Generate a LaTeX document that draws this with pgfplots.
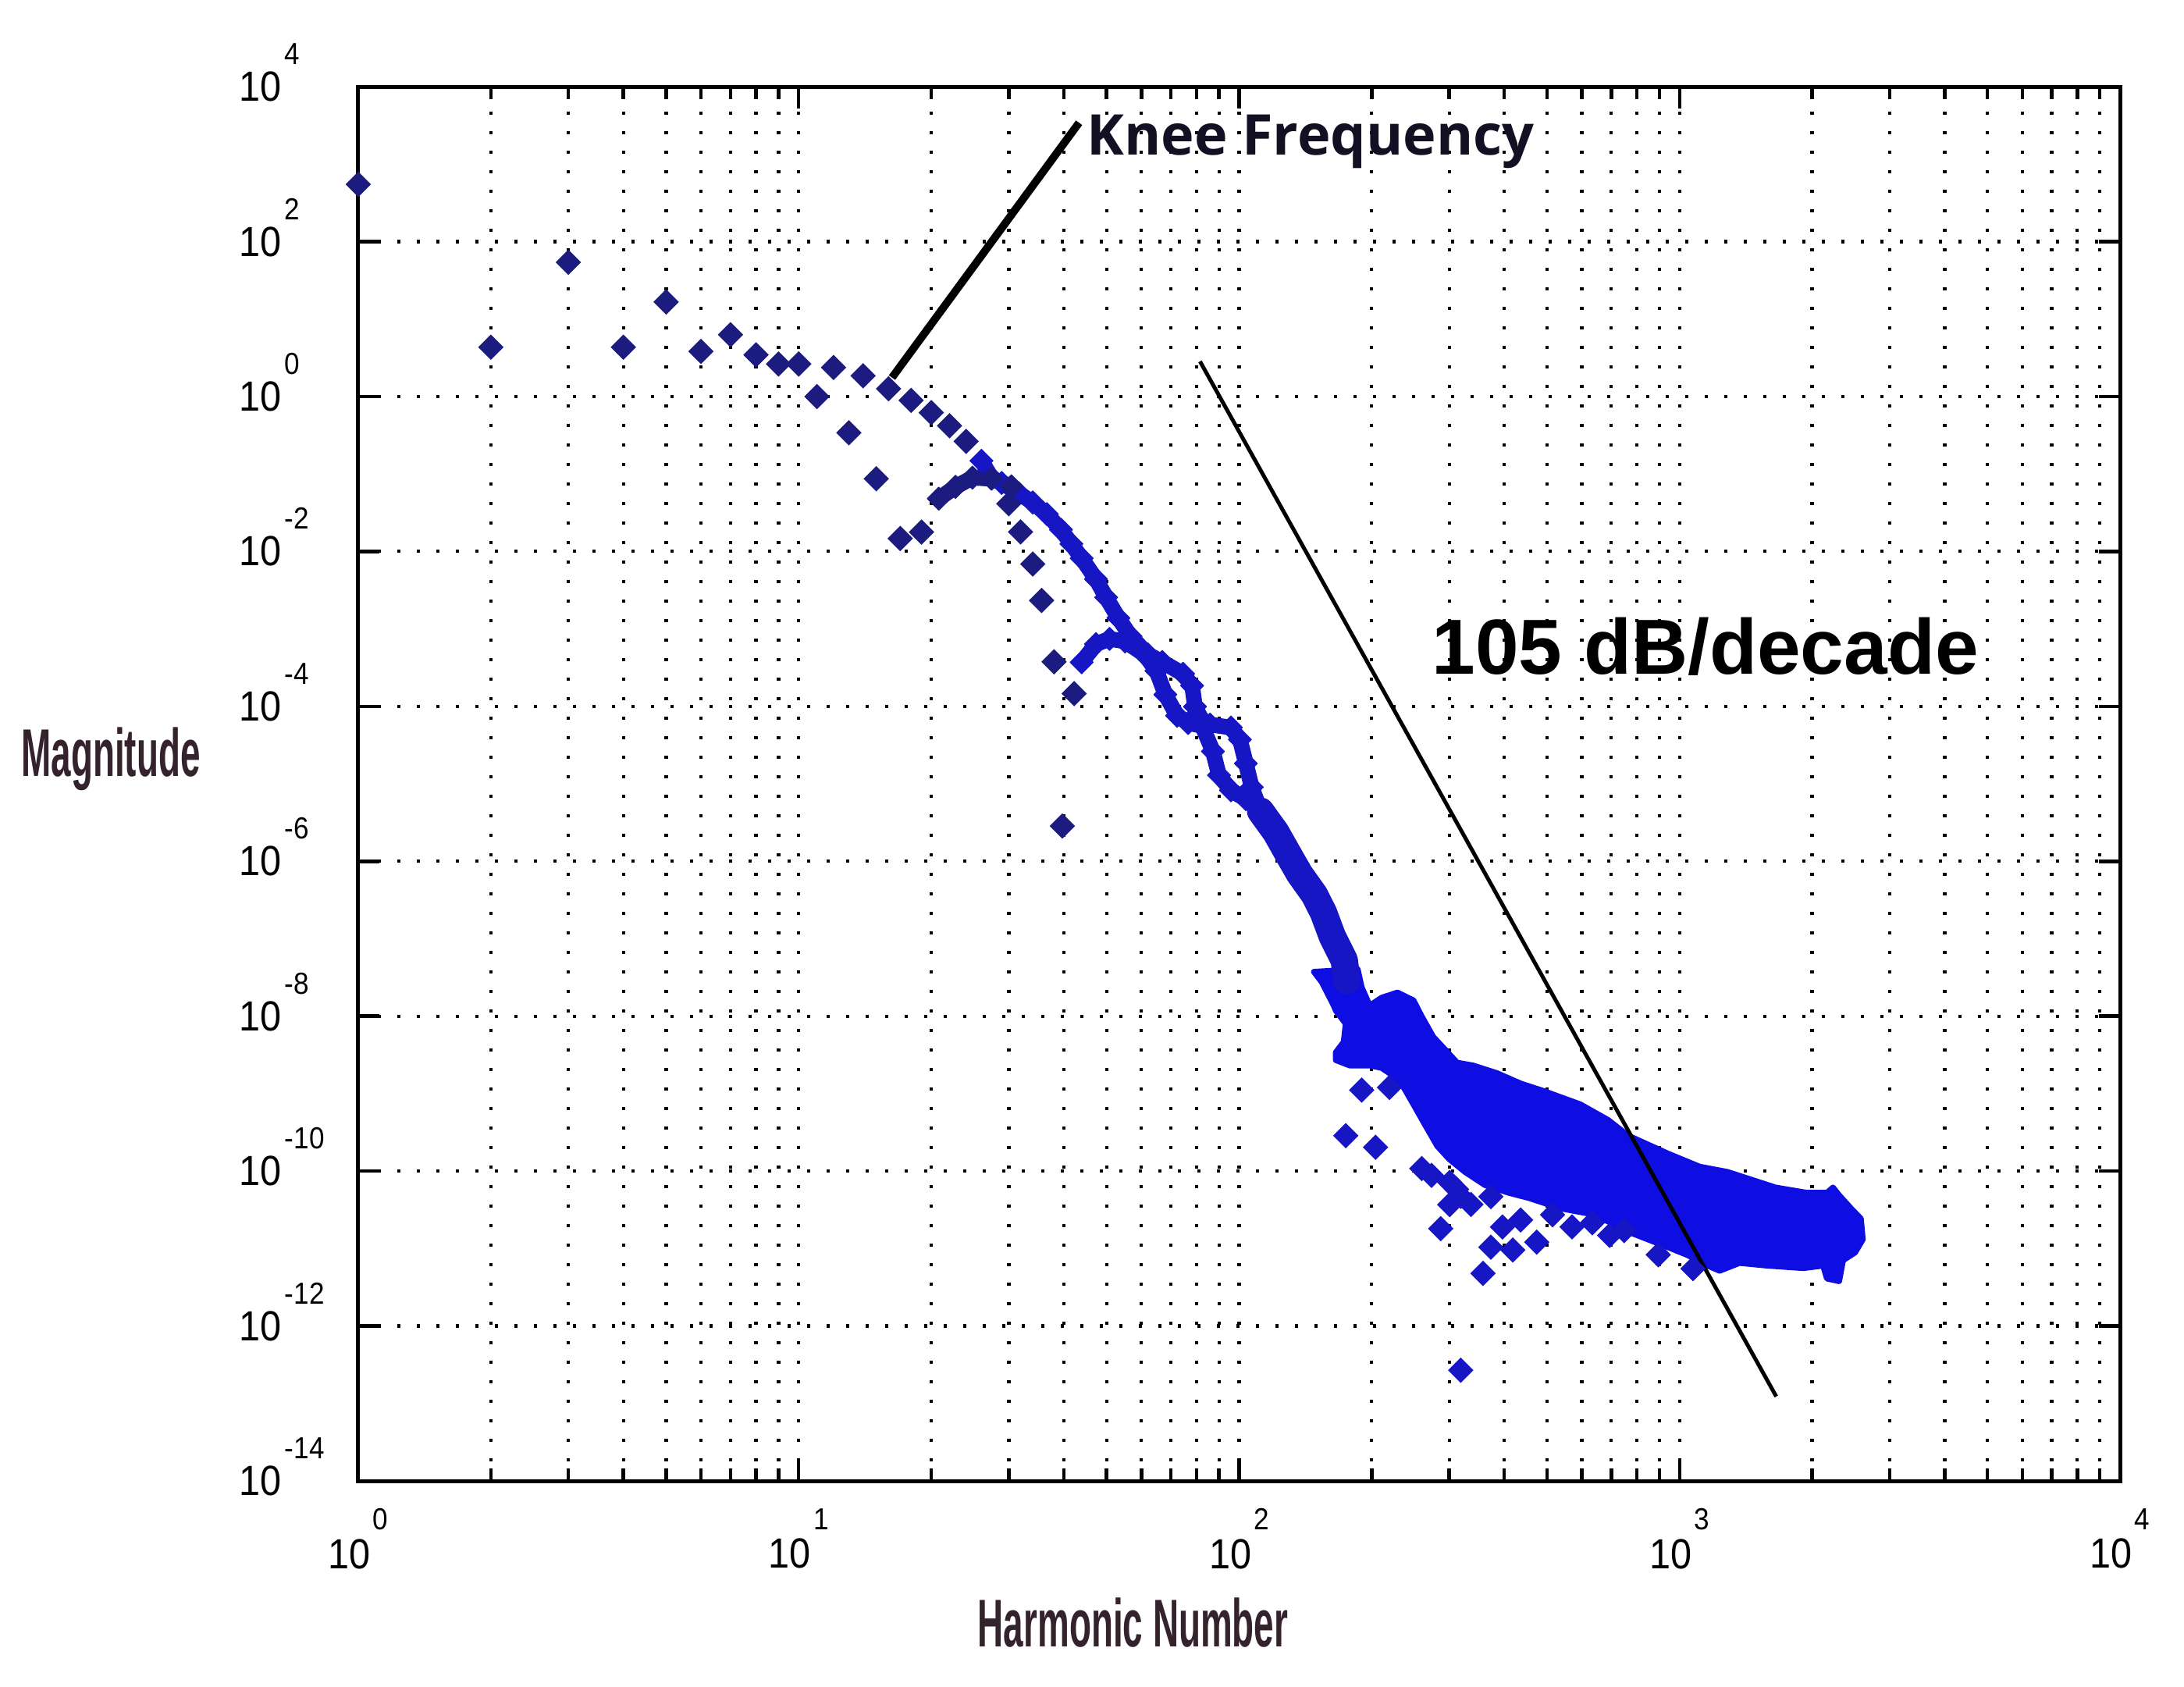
\documentclass[border=0pt]{standalone}
\usepackage{fontspec}
\setmainfont{Liberation Sans}
\newfontfamily\tickfont[FakeStretch=0.9]{Liberation Sans}
\newfontfamily\labfont[FakeStretch=0.53]{Liberation Sans}
\newfontfamily\kneefont{Open Sans}
\usepackage{pgfplots}
\pgfplotsset{compat=1.18}
\definecolor{navyM}{RGB}{28,28,128}
\definecolor{bandB}{RGB}{22,22,196}
\definecolor{blobB}{RGB}{14,14,226}
\definecolor{labC}{RGB}{52,34,44}
\definecolor{kneeC}{RGB}{20,16,36}
\newcommand\xl[1]{{\tickfont\fontsize{10.8}{12}\selectfont 10\kern0.6pt\raisebox{9.9pt}{\fontsize{7.8}{8}\selectfont #1}}}
\newcommand\yl[1]{{\tickfont\fontsize{10.8}{12}\selectfont 10\rlap{\kern0.8pt\smash{\raisebox{9.4pt}{\fontsize{7.8}{8}\selectfont #1}}}}}
\begin{document}
\begin{tikzpicture}
\path[use as bounding box] (-91.8pt,-52.6pt) rectangle (467.8pt,379.4pt);
\begin{axis}[
  at={(0,0)}, anchor=south west,
  scale only axis, width=451.4pt, height=357.2pt,
  xmode=log, ymode=log,
  xmin=1, xmax=10000, ymin=1e-14, ymax=1e4,
  xtick={1,10,100,1000,10000},
  xticklabels={\xl{0},\xl{1},\xl{2},\xl{3},\xl{4}},
  minor xtick={2,3,4,5,6,7,8,9,20,30,40,50,60,70,80,90,200,300,400,500,600,700,800,900,2000,3000,4000,5000,6000,7000,8000,9000},
  ytick={1e-14,1e-12,1e-10,1e-8,1e-6,1e-4,1e-2,1,1e2,1e4},
  yticklabels={\yl{-14},\yl{-12},\yl{-10},\yl{-8},\yl{-6},\yl{-4},\yl{-2},\yl{0},\yl{2},\yl{4}},
  yminorticks=false,
  xmajorgrids, xminorgrids, ymajorgrids,
  major grid style={black, line width=0.85pt, dash pattern=on 0.85pt off 4.15pt},
  minor grid style={black, line width=0.85pt, dash pattern=on 0.85pt off 4.15pt},
  tick align=inside, tick pos=both,
  major tick length=5.5pt, minor tick length=3.2pt,
  every tick/.style={black, line width=0.9pt},
  axis line style={line width=1pt},
  xticklabel style={anchor=north, inner sep=0pt, yshift=-6.9pt},
  yticklabel style={anchor=east, inner sep=0pt, xshift=-19.4pt},
  xlabel={\labfont\bfseries\fontsize{17.3}{18}\selectfont Harmonic Number},
  xlabel style={at={(axis description cs:0.3513,-0.1187)}, anchor=base west, inner sep=0pt, text=labC},
  ylabel={\labfont\bfseries\fontsize{17.3}{18}\selectfont Magnitude},
  ylabel style={at={(axis description cs:-0.1916,0.5056)}, rotate=-90, anchor=base west, inner sep=0pt, text=labC},
]
% dense blob of high harmonics
\addplot[draw=blobB, fill=blobB, line width=1.5pt, line join=round] coordinates {
(147.9,3.74e-8) (154.1,2.75e-8) (164.0,1.37e-8) (165.8,1.18e-8)
(174.6,8.00e-9) (172.8,4.65e-9) (165.8,3.41e-9) (165.8,2.71e-9) (178.3,2.31e-9) (197.9,2.31e-9)
(210.6,2.15e-9) (224.0,1.70e-9) (233.7,1.35e-9) (248.8,7.26e-10) (264.6,3.92e-10) (281.7,2.11e-10)
(299.9,1.43e-10) (325.8,9.75e-11) (361.4,6.61e-11) (409.8,5.24e-11) (454.6,4.50e-11) (537.0,3.30e-11)
(621.1,2.83e-11) (688.7,2.24e-11) (764.5,1.65e-11) (848.4,1.31e-11) (941.5,1.04e-11) (1044,8.21e-12)
(1158,6.02e-12) (1233,5.17e-12) (1368,6.52e-12) (1583,6.02e-12) (1909,5.59e-12) (2118,6.02e-12)
(2161,4.10e-12) (2303,3.79e-12) (2350,7.05e-12) (2502,8.89e-12) (2606,1.31e-11) (2580,2.43e-11)
(2450,3.30e-11) (2303,4.87e-11) (2230,6.14e-11) (2161,5.24e-11) (1948,5.24e-11) (1651,6.14e-11)
(1285,9.75e-11) (1111,1.14e-10) (941.5,1.68e-10) (764.5,2.87e-10) (688.7,4.56e-10) (595.5,7.26e-10)
(493.9,1.07e-9) (435.8,1.35e-9) (384.8,1.84e-9) (339.6,2.31e-9) (312.6,2.51e-9) (275.8,5.42e-9)
(259.3,1.01e-8) (248.8,1.60e-8) (228.8,2.02e-8) (210.6,1.73e-8) (197.9,1.37e-8) (189.8,2.36e-8)
(185.8,4.05e-8)
} -- cycle;
% merged band
\addplot[bandB, line width=7pt, line join=round, line cap=round, mark=square*, mark size=2.1pt,
  mark options={rotate=45, fill=bandB, draw=bandB, line width=0.2pt}] coordinates {
(111.9,4.43e-6) (121.1,2.38e-6) (128.8,1.28e-6) (137.1,6.89e-7) (148.2,3.70e-7) (155.4,2.17e-7)
(162.8,1.07e-7) (173.3,5.26e-8) (175.5,2.88e-8)
};
% upper strand
\addplot[bandB, line width=4pt, line join=round, line cap=round, mark=square*, mark size=2.1pt,
  mark options={rotate=45, fill=bandB, draw=bandB, line width=0.2pt}] coordinates {
(26.0,0.148) (27.4,0.0896) (28.9,0.0766) (31.6,0.0564) (34.0,0.0429) (36.6,0.0303) (39.4,0.0191)
(41.6,0.0125) (43.9,0.00817) (47.3,0.00439) (49.9,0.00255) (53.2,0.00138) (56.7,8.01e-4)
(62.1,4.68e-4) (66.9,3.74e-4) (74.6,2.63e-4) (78.2,1.85e-4) (79.4,9.92e-5) (82.4,6.61e-5)
(85.9,5.82e-5) (95.8,5.33e-5) (100.4,3.73e-5) (103.6,1.83e-5) (106.8,9.04e-6) (111.9,4.43e-6)
};
% odd arc
\addplot[navyM, line width=4pt, line join=round, line cap=round, mark=square*, mark size=2.1pt,
  mark options={rotate=45, fill=navyM, draw=navyM, line width=0.2pt}] coordinates {
(20.8,0.0480) (22.7,0.0682) (24.8,0.0896) (27.4,0.0867) (30.4,0.0693)
};
% second arc and lower strand
\addplot[bandB, line width=4pt, line join=round, line cap=round, mark=square*, mark size=2.1pt,
  mark options={rotate=45, fill=bandB, draw=bandB, line width=0.2pt}] coordinates {
(43.9,3.71e-4) (47.3,6.36e-4) (50.8,7.44e-4) (55.1,6.88e-4) (61.0,4.68e-4) (64.9,2.87e-4)
(68.0,1.42e-4) (72.3,7.58e-5) (76.6,6.09e-5) (82.4,5.60e-5) (87.2,2.62e-5) (90.0,1.29e-5)
(95.8,8.25e-6) (103.6,6.33e-6) (111.9,4.43e-6)
};
% isolated low harmonics
\addplot[only marks, mark=square*, mark size=2.1pt, mark options={rotate=45, draw=navyM, fill=navyM}] coordinates {
(1,548) (2,4.33) (3,54.0) (4,4.33) (5,16.6) (6,3.82) (7,6.28) (8,3.45) (9,2.63) (10,2.63)
(11,1.0) (12,2.37) (13,0.340) (14,1.85) (15,0.0867) (16,1.26) (17,0.0147) (18,0.891)
(19,0.0178) (20,0.619) (22,0.419) (24,0.264)
(30.0,0.0413) (31.9,0.0179) (34.0,0.00689) (35.6,0.00233) (38.0,3.76e-4) (42.2,1.46e-4) (39.7,2.85e-6)
};
% scattered outliers near the blob
\addplot[only marks, mark=square*, mark size=2.1pt, mark options={rotate=45, draw=bandB, fill=bandB}] coordinates {
(174.6,2.87e-10) (204.1,2.03e-10) (189.8,1.11e-9) (219.5,1.20e-9) (286.9,1.81e-11) (336.1,3.71e-11)
(372.9,4.67e-11) (435.8,2.34e-11) (473.8,1.21e-11) (418.2,9.57e-12) (372.9,1.04e-11) (357.9,4.78e-12)
(514.7,2.73e-11) (633.9,2.15e-11) (748.6,1.71e-11) (318.5,2.68e-13) (273.4,8.80e-11) (311.7,5.82e-11)
(300.6,7.15e-11) (318.5,4.73e-11) (259.8,1.08e-10) (300.6,3.69e-11) (396.2,1.90e-11) (570.0,1.90e-11)
(693.6,1.48e-11) (894.6,8.32e-12) (1073,5.50e-12)
};
% annotation lines
\addplot[black, line width=2pt] coordinates {(16.29,1.755) (43.3,3424)};
\addplot[black, line width=1pt] coordinates {(81.5,2.84) (1658,1.23e-13)};
\node[anchor=base west, inner sep=0pt, text=kneeC, font={\kneefont\bfseries\fontsize{14.4}{16}\selectfont}] at (rel axis cs:0.4132,0.9511) {Knee Frequency};
\node[anchor=base west, inner sep=0pt, text=black, font={\bfseries\fontsize{20}{22}\selectfont}] at (rel axis cs:0.6090,0.5788) {105 dB/decade};
\end{axis}
\end{tikzpicture}
\end{document}
